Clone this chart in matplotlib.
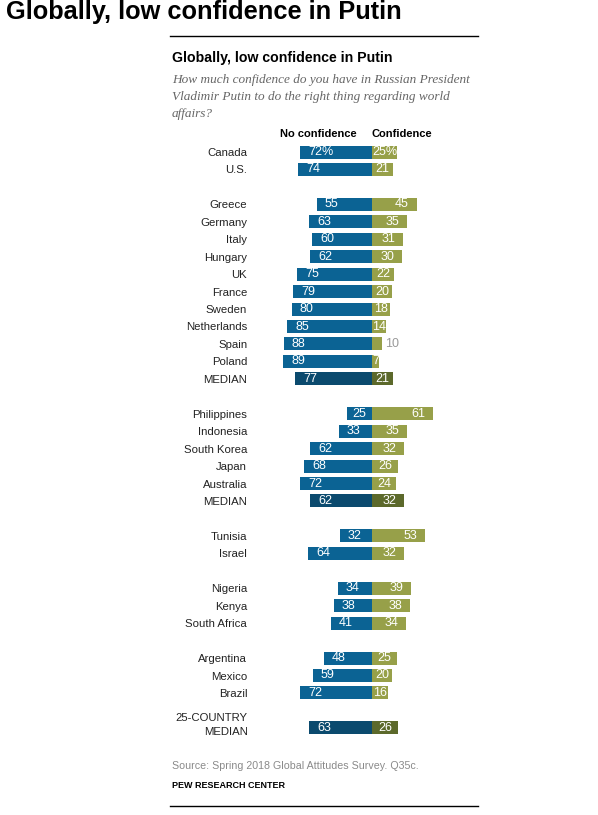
import matplotlib
matplotlib.use("Agg")
import matplotlib.pyplot as plt
from matplotlib.lines import Line2D

countries = ["Canada", "U.S.",
             "Greece", "Germany", "Italy", "Hungary", "UK", "France", "Sweden",
             "Netherlands", "Spain", "Poland", "MEDIAN",
             "Philippines", "Indonesia", "South Korea", "Japan", "Australia", "MEDIAN",
             "Tunisia", "Israel",
             "Nigeria", "Kenya", "South Africa",
             "Argentina", "Mexico", "Brazil",
             "25-COUNTRY\nMEDIAN"]
no_confidence = [72, 74,
                 55, 63, 60, 62, 75, 79, 80, 85, 88, 89, 77,
                 25, 33, 62, 68, 72, 62,
                 32, 64,
                 34, 38, 41,
                 48, 59, 72,
                 63]
confidence = [25, 21,
              45, 35, 31, 30, 22, 20, 18, 14, 10, 7, 21,
              61, 35, 32, 26, 24, 32,
              53, 32,
              39, 38, 34,
              25, 20, 16,
              26]
group_sizes = [2, 11, 6, 2, 3, 3, 1]

BLUE = "#0b6394"
BLUE_D = "#0b4a6e"
OLIVE = "#97a049"
OLIVE_D = "#5c692b"
FONT = "Liberation Sans"

W, H = 598, 815
fig = plt.figure(figsize=(W / 100, H / 100), dpi=100)

def fx(px):
    return px / W

def fy(py):
    return 1 - py / H

# row positions with a blank slot between groups
positions = []
p = 0
for g in group_sizes:
    for _ in range(g):
        positions.append(p)
        p += 1
    p += 1
n_slots = positions[-1]

row_h = 17.45
y_top = 152 - row_h / 2
y_bot = 152 + (n_slots + 0.5) * row_h
ax_left, ax_right = 250, 478
zero_px = 372
ax = fig.add_axes([fx(ax_left), fy(y_bot), fx(ax_right - ax_left), (y_bot - y_top) / H])
ax.set_xlim(ax_left - zero_px, ax_right - zero_px)
ax.set_ylim(n_slots + 0.5, -0.5)
for s in ax.spines.values():
    s.set_visible(False)
ax.set_xticks([])
ax.set_yticks(positions)
tick_labels = countries[:-1] + [""]
ax.set_yticklabels(tick_labels, fontsize=8.2, family=FONT, color="#222222")
ax.tick_params(axis="y", length=0, pad=2)

PT = 0.72  # points per pixel
ax.annotate(countries[-1], (0, positions[-1] - 0.15), xycoords=ax.get_yaxis_transform(),
            xytext=(-2 * PT, 0), textcoords="offset points", ha="right", va="center",
            fontsize=8.2, family=FONT, color="#222222", linespacing=1.55,
            multialignment="right")

is_med = ["MEDIAN" in c for c in countries]
bcol = [BLUE_D if m else BLUE for m in is_med]
gcol = [OLIVE_D if m else OLIVE for m in is_med]
bh = 13 / row_h
ax.barh(positions, [-v for v in no_confidence], height=bh, color=bcol, linewidth=0)
ax.barh(positions, confidence, height=bh, color=gcol, linewidth=0)

NFS = 9

def tw(s):
    return 7.0 * len(s)

for i, (y, nv, cv) in enumerate(zip(positions, no_confidence, confidence)):
    suf = "%" if i == 0 else ""
    ls = f"{nv}{suf}"
    rs = f"{cv}{suf}"
    # blue label
    if nv >= tw(ls) + 16:
        ax.annotate(ls, (-nv, y), xytext=(8 * PT, 0), textcoords="offset points",
                    ha="left", va="center", color="white", fontsize=NFS, family=FONT)
    else:
        ax.annotate(ls, (-nv / 2, y), ha="center", va="center", color="white",
                    fontsize=NFS, family=FONT)
    # olive label
    if cv < tw(rs) - 1:
        ax.annotate(rs, (cv, y), xytext=(3 * PT, 0), textcoords="offset points",
                    ha="left", va="center", color="#999999", fontsize=NFS, family=FONT)
    elif cv >= tw(rs) + 16:
        ax.annotate(rs, (cv, y), xytext=(-8 * PT, 0), textcoords="offset points",
                    ha="right", va="center", color="white", fontsize=NFS, family=FONT)
    else:
        ax.annotate(rs, (cv / 2, y), ha="center", va="center", color="white",
                    fontsize=NFS, family=FONT)

# headers
fig.text(fx(357), fy(134), "No confidence", ha="right", va="center",
         fontsize=8, fontweight="bold", family=FONT, color="black")
fig.text(fx(372), fy(134), "Confidence", ha="left", va="center",
         fontsize=8, fontweight="bold", family=FONT, color="black")

# titles
fig.text(fx(6), fy(12), "Globally, low confidence in Putin", ha="left", va="center",
         fontsize=18.3, fontweight="bold", family=FONT, color="black")
fig.text(fx(172), fy(58), "Globally, low confidence in Putin", ha="left", va="center",
         fontsize=10.2, fontweight="bold", family=FONT, color="black")
fig.text(fx(172), fy(74),
         "How much confidence do you have in Russian President\n"
         "Vladimir Putin to do the right thing regarding world\naffairs?",
         ha="left", va="top", fontsize=9.5, style="italic", family="Liberation Serif",
         color="#666666", linespacing=1.55)

fig.text(fx(172), fy(766), "Source: Spring 2018 Global Attitudes Survey. Q35c.",
         ha="left", va="center", fontsize=7.7, family=FONT, color="#8a8a8a")
fig.text(fx(172), fy(786), "PEW RESEARCH CENTER", ha="left", va="center",
         fontsize=6.5, fontweight="bold", family=FONT, color="black")

for yy in (36, 806):
    fig.add_artist(Line2D([fx(170), fx(478)], [fy(yy), fy(yy)], color="black", lw=1))

fig.savefig("out.png", dpi=100)
